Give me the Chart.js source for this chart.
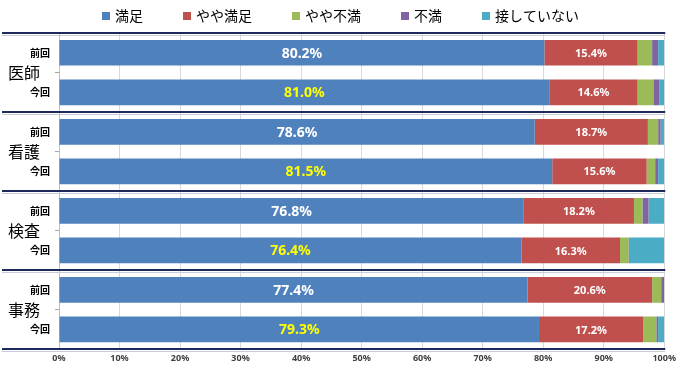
<!DOCTYPE html>
<html>
<head>
<meta charset="utf-8">
<script src="https://cdn.jsdelivr.net/npm/chart.js@4.4.1/dist/chart.umd.min.js"></script>
<style>
  html, body { margin: 0; padding: 0; background: #fff; }
  #wrap { width: 680px; height: 368px; }
</style>
</head>
<body>
<div id="wrap"><canvas id="chart"></canvas></div>
<script>
// Data
const groups = ["医師", "看護", "検査", "事務"];
const rounds = ["前回", "今回"];
const seriesNames = ["満足", "やや満足", "やや不満", "不満", "接していない"];
const seriesColors = ["#4F81BD", "#C0504D", "#9BBB59", "#8064A2", "#4BACC6"];

const satisfied            = [80.2, 81.0, 78.6, 81.5, 76.8, 76.4, 77.4, 79.3];
const somewhatSatisfied    = [15.4, 14.6, 18.7, 15.6, 18.2, 16.3, 20.6, 17.2];
const somewhatDissatisfied = [2.4, 2.6, 1.7, 1.4, 1.4, 1.4, 1.5, 2.2];
const dissatisfied         = [1.0, 1.0, 0.4, 0.5, 1.0, 0.2, 0.5, 0.3];
const noContact            = [1.0, 0.8, 0.6, 1.0, 2.6, 5.7, 0.0, 1.0];

const xTickLabels = ["0%", "10%", "20%", "30%", "40%", "50%", "60%", "70%", "80%", "90%", "100%"];

const labels = [];
groups.forEach(() => rounds.forEach(r => labels.push(r)));

const seriesValues = [satisfied, somewhatSatisfied, somewhatDissatisfied, dissatisfied, noContact];

const JP = '"Noto Sans CJK JP", "Noto Sans", sans-serif';
const NUM = '"Noto Sans", "Noto Sans CJK JP", sans-serif';

// Custom drawing: legend, group separators, group labels, value labels
const decorPlugin = {
    id: "decor",
    afterDatasetsDraw(chart) {
        const ctx = chart.ctx;
        ctx.save();
        ctx.textAlign = "center";
        ctx.textBaseline = "middle";
        // 満足 labels
        chart.getDatasetMeta(0).data.forEach((el, i) => {
            ctx.font = "bold 14px " + NUM;
            ctx.fillStyle = i % 2 === 0 ? "#FFFFFF" : "#FFFF00";
            ctx.fillText(satisfied[i].toFixed(1) + "%", (el.x + el.base) / 2, el.y + 1);
        });
        // やや満足 labels
        chart.getDatasetMeta(1).data.forEach((el, i) => {
            ctx.font = "bold 11px " + NUM;
            ctx.fillStyle = "#FFFFFF";
            ctx.fillText(somewhatSatisfied[i].toFixed(1) + "%", (el.x + el.base) / 2, el.y + 1);
        });
        ctx.restore();
    },
    afterDraw(chart) {
        const ctx = chart.ctx;
        const y = chart.scales.y;
        const area = chart.chartArea;
        ctx.save();

        // separators between groups
        for (let g = 0; g <= groups.length; g++) {
            const py = Math.round(y.getPixelForValue(g * 2 - 0.5));
            ctx.fillStyle = "#1F2A5C";
            ctx.fillRect(2, py - 1, area.right - 1, 2);
            ctx.fillStyle = "#C8CCD8";
            ctx.fillRect(2, py + 2, area.right - 1, 1);
        }

        // group labels
        ctx.font = "16px " + JP;
        ctx.fillStyle = "#000";
        ctx.textAlign = "left";
        ctx.textBaseline = "middle";
        groups.forEach((g, i) => {
            const cy = (y.getPixelForValue(i * 2) + y.getPixelForValue(i * 2 + 1)) / 2;
            ctx.fillText(g, 8, cy);
        });

        // legend
        ctx.font = "14px " + JP;
        const box = 8, gapText = 5, gapItem = 40;
        const widths = seriesNames.map(n => ctx.measureText(n).width);
        let total = widths.reduce((a, w) => a + box + gapText + w, 0) + gapItem * (seriesNames.length - 1);
        let x = Math.round((chart.width - total) / 2);
        seriesNames.forEach((n, i) => {
            ctx.fillStyle = seriesColors[i];
            ctx.fillRect(x, 12, box, box);
            ctx.fillStyle = "#000";
            ctx.fillText(n, x + box + gapText, 16);
            x += box + gapText + widths[i] + gapItem;
        });
        ctx.restore();
    }
};

new Chart(document.getElementById("chart"), {
    type: "bar",
    data: {
        labels: labels,
        datasets: seriesNames.map((name, i) => ({
            label: name,
            data: seriesValues[i],
            backgroundColor: seriesColors[i],
            borderWidth: 0,
            barPercentage: 0.65,
            categoryPercentage: 1.0
        }))
    },
    options: {
        indexAxis: "y",
        responsive: true,
        maintainAspectRatio: false,
        animation: false,
        layout: { padding: { top: 33, right: 14, bottom: 0, left: 0 } },
        plugins: {
            legend: { display: false },
            tooltip: { enabled: false }
        },
        scales: {
            x: {
                stacked: true,
                min: 0,
                max: 100,
                ticks: {
                    stepSize: 10,
                    padding: 4,
                    color: "#404040",
                    font: { family: NUM, size: 9, weight: "bold" },
                    callback: (v, i) => xTickLabels[i]
                },
                grid: { color: "#D9D9D9", drawTicks: false },
                border: { display: false }
            },
            y: {
                stacked: true,
                afterFit: s => { s.width = 59; },
                ticks: {
                    padding: 5,
                    color: "#000",
                    font: { family: JP, size: 10, weight: "bold" }
                },
                grid: { drawOnChartArea: false, offset: true, tickLength: 4, color: "#A6A6A6" },
                border: { color: "#BFBFBF" }
            }
        }
    },
    plugins: [decorPlugin]
});
</script>
</body>
</html>
